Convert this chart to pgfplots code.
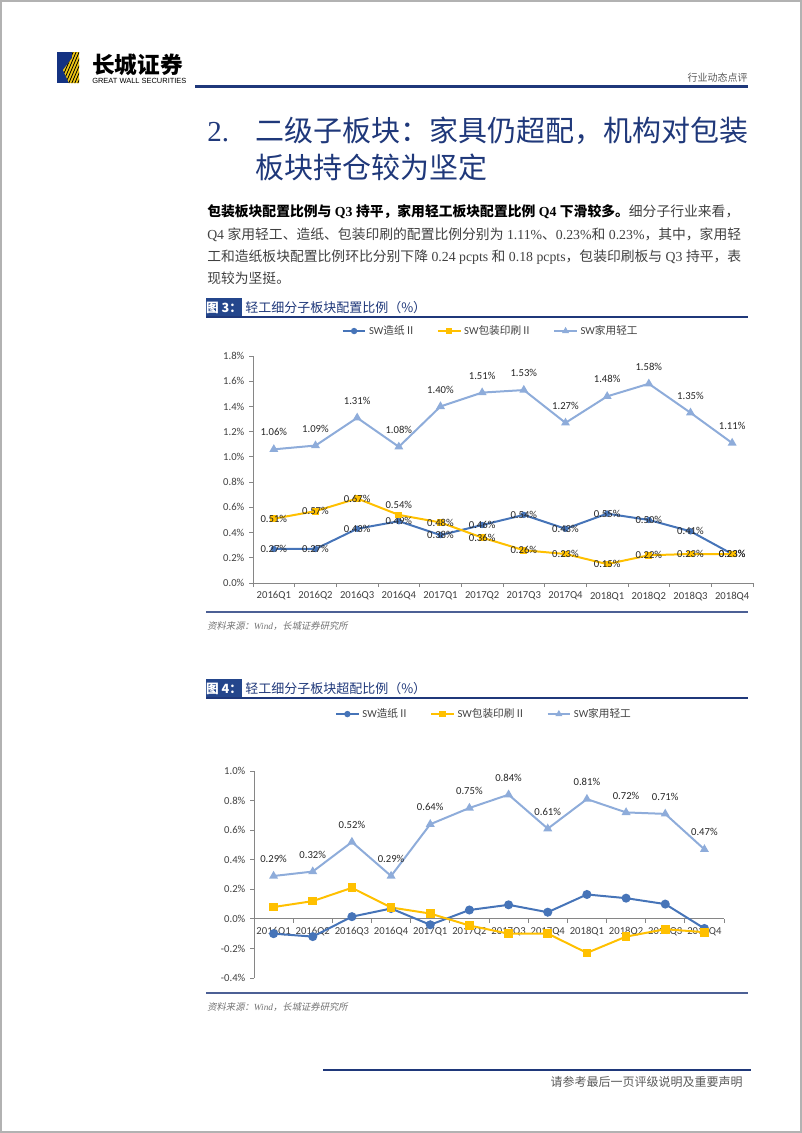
\documentclass[border=0pt]{standalone}
\usepackage{fontspec}
\usepackage{pgfplots}
\pgfplotsset{compat=1.18}
\setmainfont{Liberation Serif}
\newfontfamily\cjk{Noto Sans CJK SC}
\newfontfamily\cjkit{Noto Sans CJK SC}[FakeSlant=0.2]
\newfontfamily\carlito{Carlito}
\newfontfamily\arial{Liberation Sans}
\newcommand\C[1]{{\cjk #1}}
\newcommand\chartfont{\carlito\fontsize{8pt}{9.6pt}\selectfont}

\definecolor{navy}{RGB}{31,56,122}
\definecolor{figblue}{RGB}{36,70,140}
\definecolor{logoblue}{RGB}{20,50,130}
\definecolor{logoyellow}{RGB}{240,200,20}
\definecolor{cA}{RGB}{70,116,184}
\definecolor{cB}{RGB}{255,192,0}
\definecolor{cC}{RGB}{142,172,218}
\definecolor{axgray}{RGB}{134,134,134}
\definecolor{labgray}{RGB}{64,64,64}

\pgfplotsset{
  /pgf/number format/assume math mode=true,
  myaxis/.style={
    scale only axis, anchor=south west, clip=false,
    xmin=-0.5, xmax=11.5,
    xtick={-0.5,0.5,1.5,2.5,3.5,4.5,5.5,6.5,7.5,8.5,9.5,10.5,11.5},
    x tick label as interval,
    xticklabels={2016Q1,2016Q2,2016Q3,2016Q4,2017Q1,2017Q2,2017Q3,2017Q4,2018Q1,2018Q2,2018Q3,2018Q4},
    hide obscured x ticks=false,
    axis y line*=left,
    axis line style={draw=axgray, line width=0.6pt},
    tick align=outside, major tick length=3pt,
    tick style={draw=axgray, line width=0.6pt},
    yticklabel={\pgfmathprintnumber[fixed,fixed zerofill,precision=1]{\tick}\%},
    tick label style={font=\chartfont, text=labgray},
    legend columns=3,
    legend style={draw=none, fill=none, font=\chartfont, text=labgray,
      /tikz/every even column/.append style={column sep=14pt}},
    legend image post style={mark size=1.6pt},
    every node near coord/.append style={font=\chartfont, text=black!85, anchor=center},
  },
  pct/.style={nodes near coords={\pgfmathprintnumber[fixed,fixed zerofill,precision=2]{\pgfplotspointmeta}\%}},
}

\begin{document}
\begin{tikzpicture}[x=0.75pt,y=-0.75pt]
\useasboundingbox (0,0) rectangle (802,1133);
\draw[gray!60, line width=1.1pt] (1,1) rectangle (801,1132);

% header
\fill[logoblue] (57,52) rectangle (79,83);
\begin{scope}
  \clip (79,52) -- (79,83) -- (69,83) -- (63,70) -- (72,58) -- (72,52) -- cycle;
  \fill[logoyellow] (55,50) rectangle (80,85);
  \foreach \k in {0,...,12} \draw[black, line width=0.6pt] (50+3*\k,85) -- (65+3*\k,50);
\end{scope}
\node[anchor=base west, inner sep=0] at (92,73) {\cjk\bfseries\fontsize{17pt}{17pt}\selectfont 长城证券};
\node[anchor=base west, inner sep=0] at (92,83) {\arial\fontsize{5.6pt}{6pt}\selectfont GREAT WALL SECURITIES};
\node[anchor=base east, inner sep=0, text=black!65] at (748,81) {\cjk\fontsize{7.5pt}{8pt}\selectfont 行业动态点评};
\draw[navy, line width=2.25pt] (195,86) -- (748,86);

% heading
\node[anchor=base west, inner sep=0, text=navy] at (207,141) {\fontsize{21.75pt}{22pt}\selectfont 2.};
\node[anchor=base west, inner sep=0, text=navy] at (255,141) {\cjk\fontsize{21.75pt}{22pt}\selectfont 二级子板块：家具仍超配，机构对包装};
\node[anchor=base west, inner sep=0, text=navy] at (255,178) {\cjk\fontsize{21.75pt}{22pt}\selectfont 板块持仓较为坚定};

% paragraph
\begin{scope}[every node/.style={anchor=base west, inner sep=0, text=black!75, font=\fontsize{10.35pt}{12pt}\selectfont}]
\node at (207,216) {\textcolor{black}{\bfseries\C{包装板块配置比例与} Q3 \C{持平，家用轻工板块配置比例} Q4 \C{下滑较多。}}\C{细分子行业来看，}};
\node at (207,239) {Q4 \C{家用轻工、造纸、包装印刷的配置比例分别为} 1.11\%\C{、}0.23\%\C{和} 0.23\%\C{，其中，家用轻}};
\node at (207,261) {\C{工和造纸板块配置比例环比分别下降} 0.24 pcpts \C{和} 0.18 pcpts\C{，包装印刷板与} Q3 \C{持平，表}};
\node at (207,283) {\C{现较为坚挺。}};
\end{scope}

% figure 3 title
\fill[figblue] (206,298) rectangle (242,316);
\node[text=white, inner sep=0] at (224,307.5) {\cjk\bfseries\fontsize{9.5pt}{10pt}\selectfont 图 3：};
\node[anchor=west, inner sep=0, text=navy] at (245,307.5) {\cjk\fontsize{9.75pt}{10pt}\selectfont 轻工细分子板块配置比例（\%）};
\draw[navy, line width=1.1pt] (206,317) -- (748,317);

\coordinate (a1) at (253,583);
\begin{axis}[myaxis, at={(a1)}, width=375pt, height=170.25pt,
  ymin=0, ymax=1.8, ytick={0,0.2,0.4,0.6,0.8,1,1.2,1.4,1.6,1.8},
  axis x line*=bottom,
  legend style={at={(0.476,1.11)}, anchor=center}]
\addplot[cA, line width=1.5pt, mark=*, mark size=1.6pt, pct, point meta=y]
  coordinates {(0,0.27) (1,0.27) (2,0.43) (3,0.49) (4,0.38) (5,0.46) (6,0.54) (7,0.43) (8,0.55) (9,0.50) (10,0.41) (11,0.23)};
\addlegendentry{SW{\cjk 造纸Ⅱ}}
\addplot[cB, line width=1.5pt, mark=square*, mark size=1.8pt, point meta=explicit symbolic, nodes near coords={\pgfplotspointmeta}]
  coordinates {(0,0.51)[0.51\%] (1,0.57)[0.57\%] (2,0.67)[0.67\%] (3,0.54)[] (4,0.48)[0.48\%] (5,0.36)[0.36\%] (6,0.26)[0.26\%] (7,0.23)[0.23\%] (8,0.15)[0.15\%] (9,0.22)[0.22\%] (10,0.23)[0.23\%] (11,0.23)[0.23\%]};
\addlegendentry{SW{\cjk 包装印刷Ⅱ}}
\addplot[cC, line width=1.5pt, mark=triangle*, mark size=2.4pt, pct, point meta=y,
  every node near coord/.append style={yshift=12.75pt}]
  coordinates {(0,1.06) (1,1.09) (2,1.31) (3,1.08) (4,1.40) (5,1.51) (6,1.53) (7,1.27) (8,1.48) (9,1.58) (10,1.35) (11,1.11)};
\addlegendentry{SW{\cjk 家用轻工}}
\node[font=\chartfont, text=black!85, yshift=7.5pt] at (axis cs:3,0.54) {0.54\%};
\end{axis}

\draw[navy!80, line width=0.8pt] (206,612) -- (748,612);
\node[anchor=base west, inner sep=0, text=black!55] at (207,629) {\fontsize{7pt}{8pt}\selectfont\cjkit 资料来源：{\itshape\rmfamily Wind}，长城证券研究所};

% figure 4 title
\fill[figblue] (206,679) rectangle (242,697);
\node[text=white, inner sep=0] at (224,688.5) {\cjk\bfseries\fontsize{9.5pt}{10pt}\selectfont 图 4：};
\node[anchor=west, inner sep=0, text=navy] at (245,688.5) {\cjk\fontsize{9.75pt}{10pt}\selectfont 轻工细分子板块超配比例（\%）};
\draw[navy, line width=1.1pt] (206,698) -- (748,698);

\coordinate (a2) at (254,978);
\begin{axis}[myaxis, at={(a2)}, width=352.5pt, height=155.25pt,
  ymin=-0.4, ymax=1.0, ytick={-0.4,-0.2,0,0.2,0.4,0.6,0.8,1},
  axis x line*=middle,
  legend style={at={(0.49,1.275)}, anchor=center}]
\addplot[cA, line width=1.5pt, mark=*, mark size=2.6pt]
  coordinates {(0,-0.10) (1,-0.12) (2,0.015) (3,0.07) (4,-0.04) (5,0.06) (6,0.095) (7,0.045) (8,0.165) (9,0.14) (10,0.10) (11,-0.065)};
\addlegendentry{SW{\cjk 造纸Ⅱ}}
\addplot[cB, line width=1.5pt, mark=square*, mark size=2.5pt]
  coordinates {(0,0.08) (1,0.12) (2,0.21) (3,0.077) (4,0.036) (5,-0.045) (6,-0.10) (7,-0.10) (8,-0.23) (9,-0.12) (10,-0.07) (11,-0.09)};
\addlegendentry{SW{\cjk 包装印刷Ⅱ}}
\addplot[cC, line width=1.5pt, mark=triangle*, mark size=2.4pt, pct, point meta=y,
  every node near coord/.append style={yshift=12.75pt}]
  coordinates {(0,0.29) (1,0.32) (2,0.52) (3,0.29) (4,0.64) (5,0.75) (6,0.84) (7,0.61) (8,0.81) (9,0.72) (10,0.71) (11,0.47)};
\addlegendentry{SW{\cjk 家用轻工}}
\end{axis}

\draw[navy!80, line width=0.8pt] (206,993) -- (748,993);
\node[anchor=base west, inner sep=0, text=black!55] at (207,1010) {\fontsize{7pt}{8pt}\selectfont\cjkit 资料来源：{\itshape\rmfamily Wind}，长城证券研究所};

% footer
\draw[navy, line width=1.5pt] (323,1070) -- (751,1070);
\node[anchor=base east, inner sep=0, text=black!65] at (743,1086) {\cjk\fontsize{9pt}{10pt}\selectfont 请参考最后一页评级说明及重要声明};
\end{tikzpicture}
\end{document}
